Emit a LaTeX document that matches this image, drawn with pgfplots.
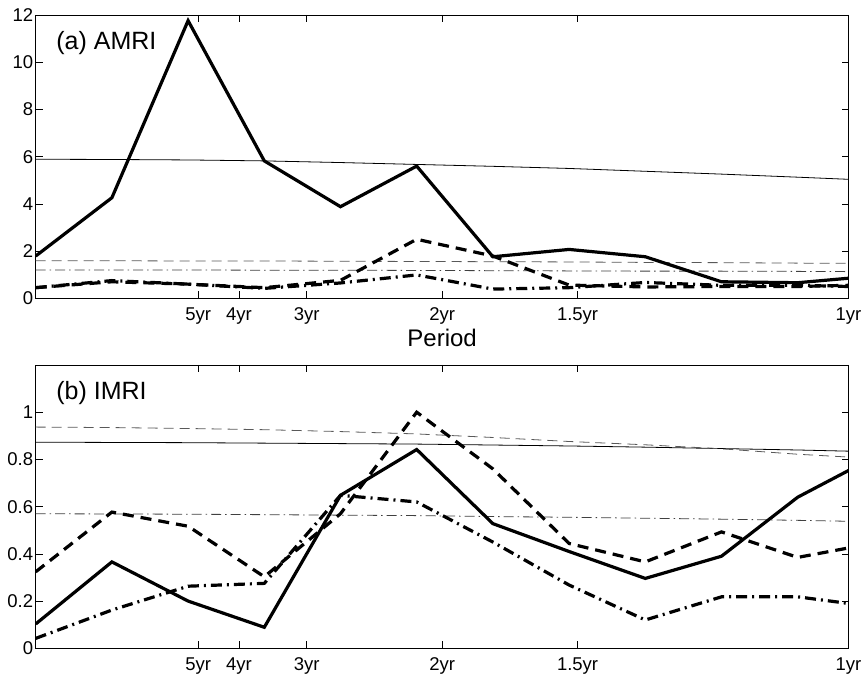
\documentclass[border=0pt]{standalone}
\usepackage{pgfplots}
\pgfplotsset{compat=1.18}
\usepackage{fontspec}
\setmainfont{Liberation Sans}
\begin{document}
\begin{tikzpicture}
\useasboundingbox (0pt,0pt) rectangle (863pt,675pt);
\pgfplotsset{
  mystyle/.style={
    scale only axis, width=812.8pt, height=283.3pt,
    anchor=south west,
    xmin=0, xmax=1,
    xtick={0.2,0.25,0.333333,0.5,0.666667,1},
    xticklabels={5yr,4yr,3yr,2yr,1.5yr,1yr},
    tick align=inside, xtick pos=both, ytick pos=both,
    major tick length=7pt,
    axis line style={line width=0.9pt},
    every tick/.style={line width=0.7pt, black},
    tick label style={font=\fontsize{18.5}{18.5}\selectfont},
    /pgf/number format/assume math mode=true,
    xticklabel style={yshift=-6pt},
    yticklabel style={xshift=1pt},
  },
  heavy/.style={black, line width=3.2pt},
  heavydash/.style={black, line width=3.2pt, dash pattern=on 11pt off 7pt},
  heavydashdot/.style={black, line width=3.2pt, dash pattern=on 11pt off 5pt on 2pt off 5pt},
  thin/.style={black, line width=0.8pt},
  thindash/.style={black!65, line width=0.8pt, dash pattern=on 10pt off 6pt},
  thindashdot/.style={black!75, line width=0.8pt, dash pattern=on 10pt off 4pt on 1.5pt off 4pt},
}
% ---------- (a) AMRI ----------
\begin{axis}[mystyle, at={(35.7pt,376.7pt)}, ymin=0, ymax=12, ytick={0,2,...,12},
  xlabel={Period},
  x label style={at={(axis description cs:0.5,0)}, anchor=base, yshift=-48.4pt, inner sep=0pt, font=\fontsize{24}{24}\selectfont}]
\addplot[thin] coordinates {(0,5.89) (0.09375,5.88) (0.1875,5.86) (0.28125,5.82) (0.375,5.75) (0.46875,5.67) (0.5625,5.59) (0.65625,5.50) (0.75,5.38) (0.84375,5.26) (0.9375,5.13) (1,5.04)};
\addplot[thindash] coordinates {(0,1.59) (0.09375,1.59) (0.1875,1.58) (0.28125,1.58) (0.375,1.57) (0.46875,1.56) (0.5625,1.55) (0.65625,1.54) (0.75,1.52) (0.84375,1.51) (0.9375,1.49) (1,1.48)};
\addplot[thindashdot] coordinates {(0,1.20) (0.09375,1.20) (0.1875,1.20) (0.28125,1.19) (0.375,1.19) (0.46875,1.18) (0.5625,1.17) (0.65625,1.16) (0.75,1.15) (0.84375,1.15) (0.9375,1.14) (1,1.13)};
\addplot[heavydashdot] coordinates {(0,0.45) (0.09375,0.75) (0.1875,0.60) (0.28125,0.42) (0.375,0.65) (0.46875,0.99) (0.5625,0.39) (0.65625,0.45) (0.75,0.67) (0.84375,0.55) (0.9375,0.55) (1,0.50)};
\addplot[heavydash] coordinates {(0,0.45) (0.09375,0.70) (0.1875,0.60) (0.28125,0.45) (0.375,0.76) (0.46875,2.50) (0.5625,1.79) (0.65625,0.56) (0.75,0.48) (0.84375,0.50) (0.9375,0.50) (1,0.55)};
\addplot[heavy] coordinates {(0,1.79) (0.09375,4.26) (0.1875,11.76) (0.28125,5.82) (0.375,3.88) (0.46875,5.60) (0.5625,1.76) (0.65625,2.07) (0.75,1.76) (0.84375,0.70) (0.9375,0.66) (1,0.85)};
\node[anchor=base west, font=\fontsize{25}{25}\selectfont, inner sep=0pt] at (rel axis cs:0.0252,0.879) {(a) AMRI};
\end{axis}
% ---------- (b) IMRI ----------
\begin{axis}[mystyle, at={(35.7pt,26.7pt)}, ymin=0, ymax=1.2, ytick={0,0.2,...,1.0}]
\addplot[thin] coordinates {(0,0.873) (0.09375,0.872) (0.1875,0.871) (0.28125,0.869) (0.375,0.867) (0.46875,0.865) (0.5625,0.861) (0.65625,0.857) (0.75,0.852) (0.84375,0.846) (0.9375,0.840) (1,0.835)};
\addplot[thindash] coordinates {(0,0.937) (0.09375,0.935) (0.1875,0.931) (0.28125,0.926) (0.375,0.918) (0.46875,0.908) (0.5625,0.893) (0.65625,0.876) (0.75,0.862) (0.84375,0.845) (0.9375,0.822) (1,0.810)};
\addplot[thindashdot] coordinates {(0,0.570) (0.09375,0.569) (0.1875,0.568) (0.28125,0.566) (0.375,0.564) (0.46875,0.562) (0.5625,0.558) (0.65625,0.555) (0.75,0.551) (0.84375,0.547) (0.9375,0.542) (1,0.538)};
\addplot[heavydashdot] coordinates {(0,0.042) (0.09375,0.162) (0.1875,0.263) (0.28125,0.275) (0.375,0.648) (0.46875,0.620) (0.5625,0.450) (0.65625,0.268) (0.75,0.120) (0.84375,0.218) (0.9375,0.218) (1,0.190)};
\addplot[heavydash] coordinates {(0,0.324) (0.09375,0.577) (0.1875,0.517) (0.28125,0.303) (0.375,0.570) (0.46875,1.000) (0.5625,0.760) (0.65625,0.444) (0.75,0.366) (0.84375,0.493) (0.9375,0.385) (1,0.425)};
\addplot[heavy] coordinates {(0,0.103) (0.09375,0.366) (0.1875,0.200) (0.28125,0.089) (0.375,0.648) (0.46875,0.842) (0.5625,0.528) (0.65625,0.410) (0.75,0.296) (0.84375,0.390) (0.9375,0.640) (1,0.753)};
\node[anchor=base west, font=\fontsize{25}{25}\selectfont, inner sep=0pt] at (rel axis cs:0.0252,0.879) {(b) IMRI};
\end{axis}
\end{tikzpicture}
\end{document}
